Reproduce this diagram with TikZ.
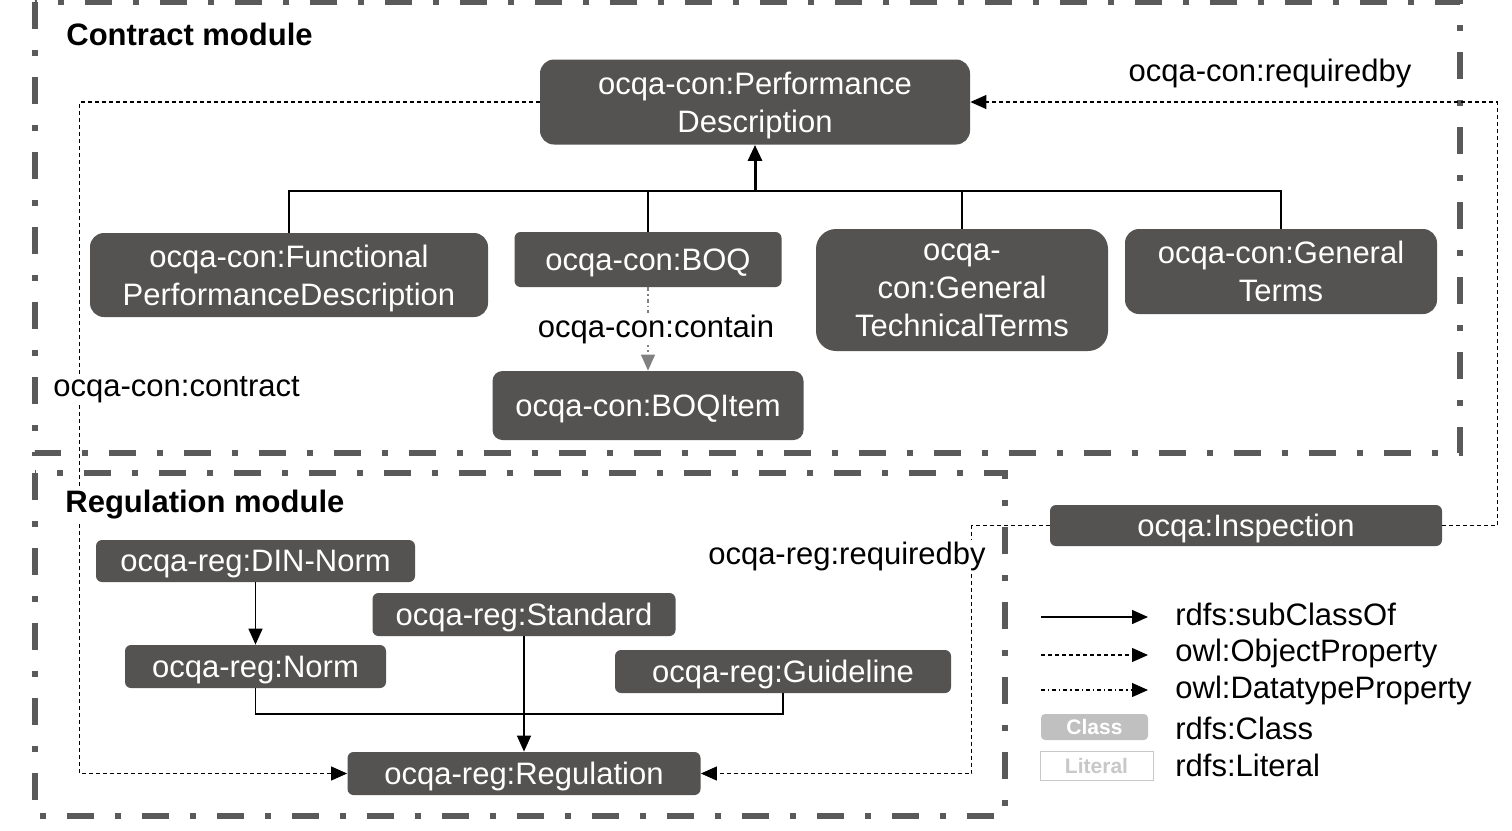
\documentclass[tikz,border=0pt]{standalone}
\usepackage{fontspec}
\setmainfont{Liberation Sans}
\usetikzlibrary{arrows.meta}
\definecolor{nodegray}{RGB}{85,83,81}
\definecolor{framegray}{RGB}{90,90,90}
\definecolor{legendgray}{RGB}{192,192,192}
\definecolor{literalgray}{RGB}{200,200,200}

\begin{document}
\begin{tikzpicture}[x=0.5pt, y=-0.5pt,
    owlclass/.style={fill=nodegray, text=white, rounded corners=3pt, inner sep=0pt, text depth=0pt,
      align=center, font=\fontsize{15.5}{19}\selectfont},
    lbl/.style={font=\fontsize{15.5}{19}\selectfont, inner sep=1pt},
    title/.style={font=\bfseries\fontsize{15.5}{19}\selectfont, inner sep=1pt, fill=white},
    module/.style={framegray, line width=3pt,
      dash pattern=on 13.5pt off 10.5pt on 3pt off 10.5pt},
    subcls/.style={line width=0.75pt},
    subarrow/.style={line width=0.75pt, -{Triangle[length=8pt,width=7pt]}},
    objprop/.style={line width=0.6pt, dash pattern=on 2pt off 1.5pt, -{Triangle[length=8pt,width=7pt]}},
    dataprop/.style={line width=0.6pt, dash pattern=on 2pt off 1.5pt on 0.6pt off 1.5pt, -{Triangle[length=8pt,width=7pt]}}]
  \useasboundingbox (0,0) rectangle (1512,831);

  % module frames
  \draw[module] (35,2) rectangle (1460,453);
  \draw[module] (35,473) rectangle (1005,816);

  % contract module
  \node[owlclass, rounded corners=7pt, minimum width=215pt, minimum height=42.5pt] (perf) at (755,102) {ocqa-con:Performance\\Description};
  \node[owlclass, rounded corners=7pt, minimum width=199pt, minimum height=42pt] (func) at (289,275) {ocqa-con:Functional\\PerformanceDescription};
  \node[owlclass, minimum width=133.5pt, minimum height=27.5pt] (boq) at (648,259.5) {ocqa-con:BOQ};
  \node[owlclass, rounded corners=10pt, minimum width=146pt, minimum height=61pt] (gentech) at (962,290) {ocqa-\\con:General\\TechnicalTerms};
  \node[owlclass, rounded corners=7pt, minimum width=156pt, minimum height=42.5pt] (genterms) at (1281,271.5) {ocqa-con:General\\Terms};
  \node[owlclass, rounded corners=5pt, minimum width=155.5pt, minimum height=34.5pt] (boqitem) at (648,405.5) {ocqa-con:BOQItem};
  \node[owlclass, minimum width=196pt, minimum height=20.5pt] (insp) at (1246,525.5) {ocqa:Inspection};

  % regulation module
  \node[owlclass, minimum width=159.5pt, minimum height=21pt] (din) at (255.5,561) {ocqa-reg:DIN-Norm};
  \node[owlclass, minimum width=151.5pt, minimum height=21.5pt] (std) at (524,614.5) {ocqa-reg:Standard};
  \node[owlclass, minimum width=130.5pt, minimum height=21.5pt] (norm) at (255.5,666.5) {ocqa-reg:Norm};
  \node[owlclass, minimum width=168pt, minimum height=21.5pt] (guide) at (783,671.5) {ocqa-reg:Guideline};
  \node[owlclass, minimum width=176.5pt, minimum height=21.5pt] (reg) at (524,773.5) {ocqa-reg:Regulation};

  % subclass tree
  \coordinate (fork) at (755,191);
  \coordinate (join) at (524,714);
  \draw[subcls] (func.north) |- (fork);
  \draw[subcls] (boq.north) |- (fork);
  \draw[subcls] (gentech.north) |- (fork);
  \draw[subcls] (genterms.north) |- (fork);
  \draw[subarrow, line width=1.5pt] (fork) -- (perf.south);
  \draw[subarrow] (din.south) -- (norm.north);
  \draw[subcls] (norm.south) |- (join) -| (guide.south);
  \draw[subarrow] (std.south) -- (reg.north);

  % properties
  \draw[objprop] (perf.west) -- ++(-460,0) |- (reg.west);
  \draw[objprop] (insp.east) -- ++(55,0) |- (perf.east);
  \draw[objprop] (insp.west) -- ++(-78,0) |- (reg.east);
  \draw[dataprop, draw=gray] (boq.south) -- (boqitem.north);

  % labels
  \node[title, anchor=west] (contractmod) at (64,34) {Contract module};
  \node[title, anchor=west] (regmod) at (63,505) {Regulation module};
  \node[lbl] (reqcon) at (1270,73) {ocqa-con:requiredby};
  \node[lbl, fill=white, anchor=west] (contract) at (51,390) {ocqa-con:contract};
  \node[lbl, fill=white] (contain) at (656,329) {ocqa-con:contain};
  \node[lbl, fill=white] (reqreg) at (847,556) {ocqa-reg:requiredby};

  % legend
  \coordinate (lsa) at (1041,617); \coordinate (lsb) at (1148,617);
  \coordinate (loa) at (1041,655); \coordinate (lob) at (1148,655);
  \coordinate (lda) at (1041,690); \coordinate (ldb) at (1148,690);
  \draw[subarrow] (lsa) -- (lsb);
  \draw[objprop] (loa) -- (lob);
  \draw[dataprop] (lda) -- (ldb);
  \node[fill=legendgray, text=white, rounded corners=2pt, minimum width=53.5pt, minimum height=13pt,
    inner sep=0pt, font=\bfseries\fontsize{10.5}{12}\selectfont] (legcls) at (1094.5,727) {Class};
  \node[draw=literalgray, line width=0.5pt, fill=white, text=literalgray, minimum width=56.5pt, minimum height=14.5pt,
    inner sep=0pt, font=\bfseries\fontsize{10.5}{12}\selectfont] (leglit) at (1096.5,765.5) {Literal};
  \node[lbl, anchor=west] at (1173,614) {rdfs:subClassOf};
  \node[lbl, anchor=west] at (1173,653) {owl:ObjectProperty};
  \node[lbl, anchor=west] at (1173,690) {owl:DatatypeProperty};
  \node[lbl, anchor=west] at (1173,728) {rdfs:Class};
  \node[lbl, anchor=west] at (1173,765) {rdfs:Literal};
\end{tikzpicture}
\end{document}
